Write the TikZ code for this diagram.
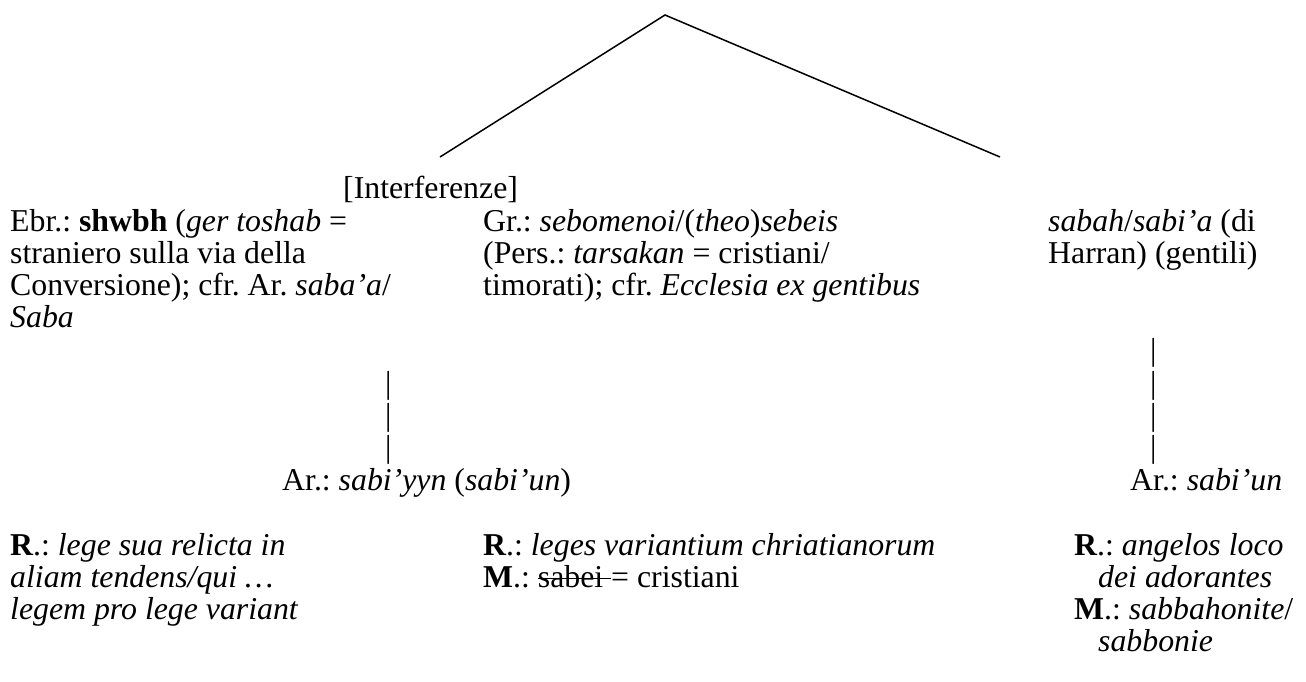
\documentclass[tikz,border=0pt]{standalone}
\usepackage{fontspec}
\setmainfont{Liberation Serif}
\frenchspacing
\newcommand\mystrike[1]{\setbox0\hbox{#1}\rlap{\rule[0.26em]{\wd0}{1.2pt}}\box0}
\tikzset{
  txt/.style={inner sep=0pt, anchor=base west, font=\fontsize{31.8}{32.3}\selectfont},
  branch/.style={line width=1.5pt},
}
\begin{document}
\begin{tikzpicture}[x=1pt,y=-1pt]
\useasboundingbox (0,0) rectangle (1306,682);
% tree lines
\coordinate (apex) at (665,15);
\coordinate (vl) at (440,157);
\coordinate (vr) at (1000,157);
\draw[branch] (vl) -- (apex) -- (vr);
% header
\node[txt] (interf) at (343,198) {[Interferenze]};
% left block
\node[txt] (l1) at (10,231) {Ebr.: \textbf{shwbh} (\textit{ger toshab} =};
\node[txt] (l2) at (10,263.3) {straniero sulla via della};
\node[txt] (l3) at (10,295.6) {Conversione); cfr. Ar. \textit{saba'a}/};
\node[txt] (l4) at (10,327.9) {\textit{Saba}};
% middle block
\node[txt] (m1) at (483,231) {Gr.: \textit{sebomenoi}/(\textit{theo})\textit{sebeis}};
\node[txt] (m2) at (483,263.3) {(Pers.: \textit{tarsakan} = cristiani/};
\node[txt] (m3) at (483,295.6) {timorati); cfr. \textit{Ecclesia ex gentibus}};
% right block
\node[txt] (r1) at (1048,231) {\textit{sabah}/\textit{sabi'a} (di};
\node[txt] (r2) at (1048,263.3) {Harran) (gentili)};
% left pipes
\node[txt] (lp1) at (385,393) {|};
\node[txt] (lp2) at (385,425) {|};
\node[txt] (lp3) at (385,457) {|};
% right pipes
\node[txt] (rp1) at (1150,360) {|};
\node[txt] (rp2) at (1150,393) {|};
\node[txt] (rp3) at (1150,425) {|};
\node[txt] (rp4) at (1150,457) {|};
% arabic forms
\node[txt] (arl) at (282,490) {Ar.: \textit{sabi'yyn} (\textit{sabi'un})};
\node[txt] (arr) at (1130,490) {Ar.: \textit{sabi'un}};
% bottom left
\node[txt] (bl1) at (10,555) {\textbf{R}.: \textit{lege sua relicta in}};
\node[txt] (bl2) at (10,587.3) {\textit{aliam tendens/qui …}};
\node[txt] (bl3) at (10,619.6) {\textit{legem pro lege variant}};
% bottom middle
\node[txt] (bm1) at (483,555) {\textbf{R}.: \textit{leges variantium chriatianorum}};
\node[txt] (bm2) at (483,587.3) {\textbf{M}.: \mystrike{sabei }= cristiani};
% bottom right
\node[txt] (br1) at (1074,555) {\textbf{R}.: \textit{angelos loco}};
\node[txt] (br2) at (1098,587.3) {\textit{dei adorantes}};
\node[txt] (br3) at (1074,619.6) {\textbf{M}.: \textit{sabbahonite}/};
\node[txt] (br4) at (1098,651.9) {\textit{sabbonie}};
\end{tikzpicture}
\end{document}
